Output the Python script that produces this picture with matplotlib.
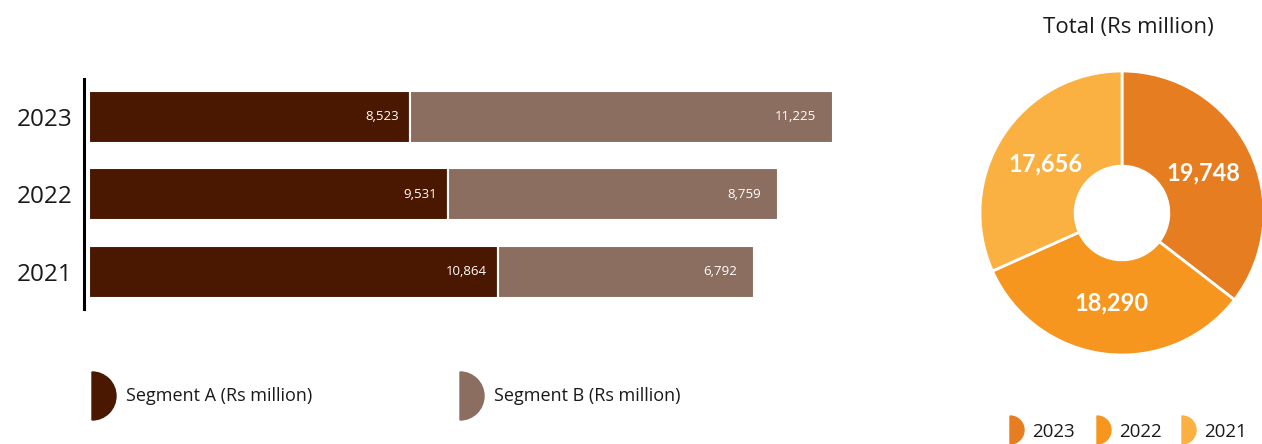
import numpy as np
import matplotlib.pyplot as plt
from matplotlib.patches import Wedge

# segment revenue, Rs million
years = ["2021", "2022", "2023"]
segment_a = [10864, 9531, 8523]
segment_b = [6792, 8759, 11225]

pie_years = ["2023", "2022", "2021"]
totals = [19748, 18290, 17656]

col_a = "#4a1700"
col_b = "#8b6e60"
pie_cols = ["#e77d21", "#f6961f", "#fbb042"]

plt.rcParams["font.family"] = ["Open Sans", "DejaVu Sans"]

fig = plt.figure(figsize=(12.62, 4.44), dpi=100)

# stacked horizontal bars
ax = fig.add_axes([84 / 1262, 1 - 309 / 444, 790 / 1262, 230 / 444])
ypos = range(len(years))
ax.barh(ypos, segment_a, height=0.67, color=col_a, edgecolor="white", linewidth=1.5)
ax.barh(ypos, segment_b, left=segment_a, height=0.67, color=col_b,
        edgecolor="white", linewidth=1.5)

for y, a, b in zip(ypos, segment_a, segment_b):
    ax.annotate(f"{a:,}", (a, y), xytext=(-8, 0), textcoords="offset points",
                ha="right", va="center", color="white", fontsize=9.5)
    ax.annotate(f"{b:,}", (a + b, y), xytext=(-12, 0), textcoords="offset points",
                ha="right", va="center", color="white", fontsize=9.5)

ax.set_xlim(-130, 20850)
ax.set_ylim(-0.48, 2.49)
ax.set_yticks(list(ypos))
ax.set_yticklabels(years, fontsize=17.5, color="#1a1a1a")
ax.tick_params(axis="y", length=0, pad=8)
ax.set_xticks([])
for side in ["top", "right", "bottom"]:
    ax.spines[side].set_visible(False)
ax.spines["left"].set_linewidth(2.2)
ax.spines["left"].set_color("black")

# donut of yearly totals
pax = fig.add_axes([(1122 - 142) / 1262, 1 - (213 + 142) / 444, 284 / 1262, 284 / 444])
wedges, _ = pax.pie(totals, colors=pie_cols, startangle=90, counterclock=False,
                    wedgeprops=dict(width=0.67, edgecolor="white", linewidth=2))
for w, val in zip(wedges, totals):
    ang = np.deg2rad((w.theta1 + w.theta2) / 2)
    pax.text(0.64 * np.cos(ang), 0.64 * np.sin(ang), f"{val:,}", ha="center",
             va="center", color="white", fontsize=17, fontweight="bold",
             family=["Lato", "DejaVu Sans"])
pax.set_xlim(-1, 1)
pax.set_ylim(-1, 1)
pax.set_aspect("equal")
pax.axis("off")
fig.text(1128 / 1262, 1 - 27 / 444, "Total (Rs million)", ha="center", va="center",
         fontsize=16, color="#1a1a1a")

# legends drawn on a pixel-space overlay
lax = fig.add_axes([0, 0, 1, 1], zorder=-1)
lax.set_xlim(0, 1262)
lax.set_ylim(444, 0)
lax.set_aspect("equal")
lax.axis("off")

for x, lbl, c in [(92, "Segment A (Rs million)", col_a), (460, "Segment B (Rs million)", col_b)]:
    lax.add_patch(Wedge((x, 396), 24, -90, 90, color=c))
    lax.text(x + 34, 396, lbl, ha="left", va="center", fontsize=13, color="#1a1a1a")

for x, lbl, c in zip([1010, 1097, 1182], pie_years, pie_cols):
    lax.add_patch(Wedge((x, 430), 14, -90, 90, color=c))
    lax.text(x + 22, 432, lbl, ha="left", va="center", fontsize=13.5, color="#1a1a1a")

fig.savefig("out.png", dpi=100)
